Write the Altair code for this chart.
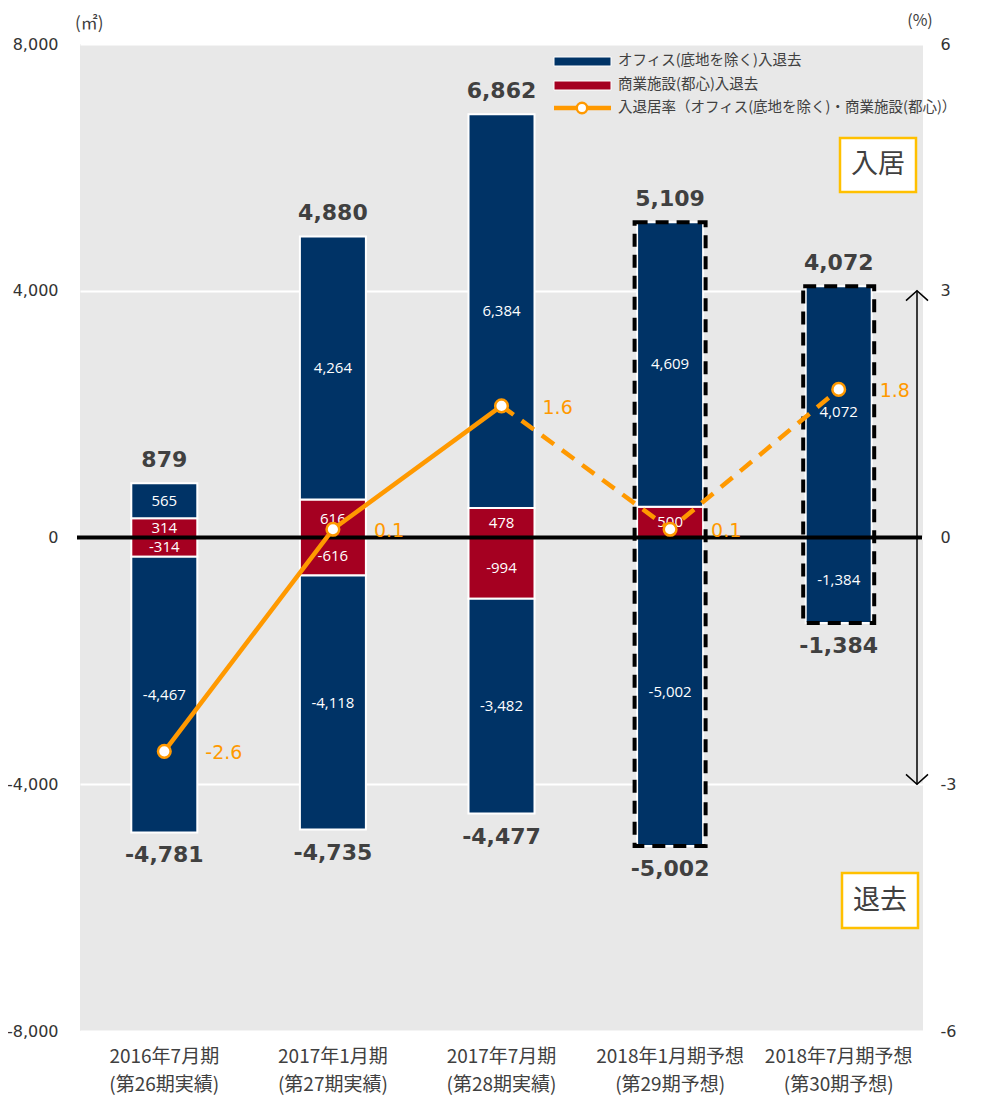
import altair as alt
import pandas as pd

# ---------------- data ----------------
period_line1 = ["2016年7月期", "2017年1月期", "2017年7月期", "2018年1月期予想", "2018年7月期予想"]
period_line2 = ["(第26期実績)", "(第27期実績)", "(第28期実績)", "(第29期予想)", "(第30期予想)"]
office_in = [565, 4264, 6384, 4609, 4072]
commercial_in = [314, 616, 478, 500, 0]
commercial_out = [-314, -616, -994, 0, 0]
office_out = [-4467, -4118, -3482, -5002, -1384]
total_in = [879, 4880, 6862, 5109, 4072]
total_out = [-4781, -4735, -4477, -5002, -1384]
rate = [-2.6, 0.1, 1.6, 0.1, 1.8]
is_forecast = [False, False, False, True, True]
legend_labels = ["オフィス(底地を除く)入退去", "商業施設(都心)入退去",
                 "入退居率（オフィス(底地を除く)・商業施設(都心)）"]
left_ticks = [-8000, -4000, 0, 4000, 8000]
right_ticks = [-6, -3, 0, 3, 6]

NAVY = "#003366"
RED = "#A50021"
ORANGE = "#FF9900"
GOLD = "#FFC000"
TXT = "#404040"
JP = "Noto Sans CJK JP"
NUM = "DejaVu Sans"

cats = [a + "\n" + b for a, b in zip(period_line1, period_line2)]

seg_rows = []
for i, c in enumerate(cats):
    for kind, lo, v in [("commercial", 0, commercial_in[i]),
                        ("office", commercial_in[i], office_in[i]),
                        ("commercial", 0, commercial_out[i]),
                        ("office", commercial_out[i], office_out[i])]:
        if v == 0:
            continue
        seg_rows.append({"cat": c, "kind": kind, "y0": lo, "y1": lo + v,
                         "mid": lo + v / 2, "label": f"{v:,}"})
seg = pd.DataFrame(seg_rows)

tot_in = pd.DataFrame({"cat": cats, "v": total_in, "label": [f"{v:,}" for v in total_in]})
tot_out = pd.DataFrame({"cat": cats, "v": total_out, "label": [f"{v:,}" for v in total_out]})

fc = pd.DataFrame({"cat": cats, "top": total_in, "bot": total_out, "fc": is_forecast})
fc = fc[fc["fc"]]

rt = pd.DataFrame({"cat": cats, "rate": rate, "idx": list(range(len(cats))),
                   "label": [f"{r:.1f}" for r in rate]})

one = pd.DataFrame({"a": [0]})

xscale = alt.Scale(domain=cats, paddingInner=0, paddingOuter=0)
lscale = alt.Scale(domain=[-8000, 8000], nice=False, zero=False)
rscale = alt.Scale(domain=[-6, 6], nice=False, zero=False)

XAXIS = alt.Axis(labelExpr="split(datum.label, '\\n')", labelAngle=0,
                 labelFont=JP, labelFontSize=19, labelColor=TXT,
                 labelLineHeight=28, labelPadding=16, ticks=False,
                 domain=False, grid=False, labelBaseline="top", title=None)


def X():
    return alt.X("cat:N", sort=cats, scale=xscale, title=None, axis=XAXIS)


def YL(field):
    return alt.Y(field, scale=lscale, title=None, axis=None)


def YR(field):
    return alt.Y(field, scale=rscale, title=None, axis=None)


# ---------------- left (m2) marks ----------------
bars = alt.Chart(seg).mark_bar(size=66, stroke="white", strokeWidth=2).encode(
    x=X(),
    y=alt.Y("y0:Q", scale=lscale, title=None,
            axis=alt.Axis(values=left_ticks, orient="left",
                          labelExpr="datum.value == 0 ? '0' : (datum.value < 0 ? '-' : '') + format(abs(datum.value), ',')",
                          labelFont=NUM, labelFontSize=16, labelColor="#333333",
                          labelPadding=22, ticks=False, domain=False,
                          grid=True, gridColor="white", gridWidth=2)),
    y2="y1:Q",
    color=alt.Color("kind:N", scale=alt.Scale(domain=["office", "commercial"], range=[NAVY, RED]),
                    legend=None),
)

seg_text = alt.Chart(seg).mark_text(font="Open Sans", fontSize=15, color="white",
                                    baseline="middle").encode(
    x=X(), y=YL("mid:Q"), text="label:N")

zero_line = alt.Chart(one).mark_rule(color="black", strokeWidth=4).encode(
    y=alt.Y(datum=0, scale=lscale, axis=None), x=alt.value(-3), x2=alt.value(842))

dash_box = alt.Chart(fc).mark_bar(size=71, fillOpacity=0, stroke="black", strokeWidth=4,
                                  strokeDash=[13, 8]).encode(
    x=X(), y=YL("top:Q"), y2="bot:Q")

tot_in_text = alt.Chart(tot_in).mark_text(
    font=NUM, fontSize=22, fontWeight="bold", color=TXT, baseline="middle", dy=-23).encode(
    x=X(), y=YL("v:Q"), text="label:N")
tot_out_text = alt.Chart(tot_out).mark_text(
    font=NUM, fontSize=22, fontWeight="bold", color=TXT, baseline="middle", dy=23).encode(
    x=X(), y=YL("v:Q"), text="label:N")

# ---------------- right (%) marks ----------------
line_solid = alt.Chart(rt).transform_filter("datum.idx <= 2").mark_line(
    color=ORANGE, strokeWidth=4.5).encode(
    x=X(),
    y=alt.Y("rate:Q", scale=rscale, title=None,
            axis=alt.Axis(values=right_ticks, orient="right",
                          labelExpr="(datum.value < 0 ? '-' : '') + format(abs(datum.value), 'd')",
                          labelFont=NUM, labelFontSize=16, labelColor="#333333",
                          labelPadding=17, ticks=False, domain=False, grid=False)))
line_dash = alt.Chart(rt).transform_filter("datum.idx >= 2").mark_line(
    color=ORANGE, strokeWidth=4.5, strokeDash=[15, 10]).encode(
    x=X(), y=YR("rate:Q"))
pts = alt.Chart(rt).mark_point(filled=True, fill="white", stroke=ORANGE, strokeWidth=2.5,
                               size=160, opacity=1).encode(
    x=X(), y=YR("rate:Q"))
rate_text = alt.Chart(rt).mark_text(font=NUM, fontSize=19, color=ORANGE, align="left",
                                    baseline="middle", dx=41, dy=2).encode(
    x=X(), y=YR("rate:Q"), text="label:N")

arrow_rule = alt.Chart(one).mark_rule(color="black", strokeWidth=1.5).encode(
    x=alt.value(837), y=alt.Y(datum=3, scale=rscale, axis=None), y2=alt.datum(-3))
arrow_up = alt.Chart(one).mark_point(shape="M-1,0.9L0,0L1,0.9", size=484, filled=False,
                                     color="black", strokeWidth=1.5, opacity=1).encode(
    x=alt.value(837), y=alt.Y(datum=3, scale=rscale, axis=None))
arrow_down = alt.Chart(one).mark_point(shape="M-1,-0.9L0,0L1,-0.9", size=484, filled=False,
                                       color="black", strokeWidth=1.5, opacity=1).encode(
    x=alt.value(837), y=alt.Y(datum=-3, scale=rscale, axis=None))


# ---------------- annotations (legend, boxes, units) ----------------
def label_chart(text, x, y, size, color=TXT, align="left", font=JP):
    return alt.Chart(pd.DataFrame({"t": [text]})).mark_text(
        font=font, fontSize=size, color=color, align=align, baseline="middle").encode(
        x=alt.value(x), y=alt.value(y), text="t:N")


leg_office = alt.Chart(one).mark_rect(color=NAVY, stroke="white", strokeWidth=1).encode(
    x=alt.value(474), x2=alt.value(531), y=alt.value(13), y2=alt.value(22))
leg_comm = alt.Chart(one).mark_rect(color=RED, stroke="white", strokeWidth=1).encode(
    x=alt.value(474), x2=alt.value(531), y=alt.value(37), y2=alt.value(46))
leg_line = alt.Chart(one).mark_rule(color=ORANGE, strokeWidth=4.5).encode(
    x=alt.value(474), x2=alt.value(531), y=alt.value(64))
leg_pt = alt.Chart(one).mark_point(filled=True, fill="white", stroke=ORANGE, strokeWidth=2.5,
                                   size=110, opacity=1).encode(
    x=alt.value(502), y=alt.value(64))
leg_t1 = label_chart(legend_labels[0], 538, 17, 14.5)
leg_t2 = label_chart(legend_labels[1], 538, 41, 14.5)
leg_t3 = label_chart(legend_labels[2], 538, 64, 14.5)

box_in = alt.Chart(one).mark_rect(fill="white", stroke=GOLD, strokeWidth=2.5).encode(
    x=alt.value(760), x2=alt.value(836), y=alt.value(94), y2=alt.value(148))
box_in_t = label_chart("入居", 798, 121, 27, align="center")
box_out = alt.Chart(one).mark_rect(fill="white", stroke=GOLD, strokeWidth=2.5).encode(
    x=alt.value(762), x2=alt.value(838), y=alt.value(829), y2=alt.value(884))
box_out_t = label_chart("退去", 800, 857, 27, align="center")

unit_l = label_chart("(㎡)", -5, -20, 17)
unit_r = label_chart("(%)", 840, -23, 16, align="center")

chart = alt.layer(
    bars, seg_text, zero_line, dash_box, tot_in_text, tot_out_text,
    line_solid, line_dash, pts, rate_text, arrow_rule, arrow_up, arrow_down,
    leg_office, leg_comm, leg_line, leg_pt, leg_t1, leg_t2, leg_t3,
    box_in, box_in_t, box_out, box_out_t, unit_l, unit_r,
).resolve_scale(y="independent").properties(
    width=843, height=987, autosize="none",
    padding={"left": 72, "top": 36, "right": 50, "bottom": 70},
    background="white",
).configure_view(fill="#E8E8E8", strokeWidth=0)

chart.save("out.html", embed_options={"renderer": "svg", "actions": False})
